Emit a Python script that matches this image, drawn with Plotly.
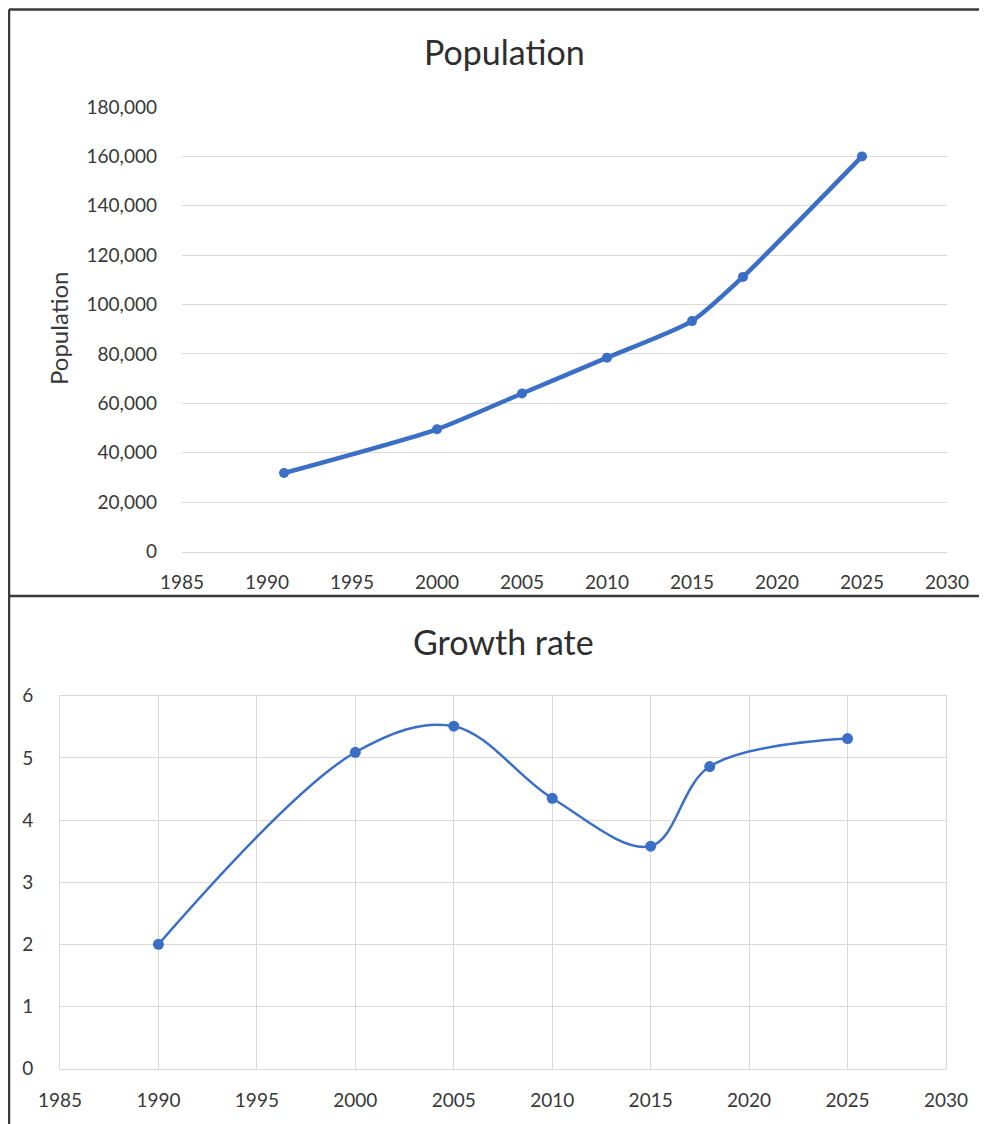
import plotly.graph_objects as go

# ---- data ----
pop_years = [1991, 2000, 2005, 2010, 2015, 2018, 2025]
pop_values = [31800, 49500, 64000, 78500, 93300, 111200, 160000]

gr_years = [1990, 2000, 2005, 2010, 2015, 2018, 2025]
gr_values = [2.0, 5.09, 5.51, 4.35, 3.58, 4.86, 5.31]

x_ticks = [1985, 1990, 1995, 2000, 2005, 2010, 2015, 2020, 2025, 2030]
pop_ticks = [0, 20000, 40000, 60000, 80000, 100000, 120000, 140000, 160000, 180000]
gr_ticks = [0, 1, 2, 3, 4, 5, 6]

W, H = 987, 1124
OFF = 8  # page body margin
BLUE = "#3B6FC6"
GRID = "#D9D9D9"
TXT = "#383838"
FONT = "Lato"


def px_x(p):
    return (p - OFF) / W


def px_y(p):
    return (H - (p - OFF)) / H


fig = go.Figure()

fig.add_trace(go.Scatter(
    x=pop_years, y=pop_values, mode="lines+markers",
    line=dict(color=BLUE, width=4.5, shape="spline", smoothing=0.6),
    marker=dict(color=BLUE, size=10),
    xaxis="x", yaxis="y", showlegend=False,
))

fig.add_trace(go.Scatter(
    x=gr_years, y=gr_values, mode="lines+markers",
    line=dict(color=BLUE, width=2.5, shape="spline", smoothing=1.0),
    marker=dict(color=BLUE, size=11),
    xaxis="x2", yaxis="y2", showlegend=False,
))

tickfont = dict(family=FONT, size=19, color=TXT)

fig.update_layout(
    width=W, height=H,
    margin=dict(l=0, r=0, t=0, b=0, pad=0, autoexpand=False),
    paper_bgcolor="white", plot_bgcolor="white",
    font=dict(family=FONT, color=TXT),
    xaxis=dict(
        domain=[px_x(182), px_x(947)], range=[1985, 2030],
        tickvals=x_ticks, showgrid=False, zeroline=False,
        showline=True, linecolor=GRID, linewidth=1,
        ticks="", tickfont=tickfont, ticklabelstandoff=14,
        anchor="y", automargin=False,
    ),
    yaxis=dict(
        domain=[px_y(551.5), px_y(107)], range=[0, 180000],
        tickvals=pop_ticks, tickformat=",", showgrid=True, gridcolor=GRID,
        zeroline=False, showline=False, ticks="", tickfont=tickfont,
        ticklabelstandoff=24, anchor="x", automargin=False,
    ),
    xaxis2=dict(
        domain=[px_x(60), px_x(946)], range=[1985, 2030],
        tickvals=x_ticks, showgrid=True, gridcolor=GRID, zeroline=False,
        showline=True, mirror=True, linecolor=GRID, linewidth=1,
        ticks="", tickfont=tickfont, ticklabelstandoff=14, anchor="y2",
        automargin=False,
    ),
    yaxis2=dict(
        domain=[px_y(1068.7), px_y(695.7)], range=[0, 6],
        tickvals=gr_ticks, showgrid=True, gridcolor=GRID, zeroline=False,
        showline=True, mirror=True, linecolor=GRID, linewidth=1,
        ticks="", tickfont=tickfont, ticklabelstandoff=22, anchor="x2",
        automargin=False,
    ),
    annotations=[
        dict(text="Population", x=px_x(504), y=px_y(52), xref="paper", yref="paper",
             showarrow=False, xanchor="center", yanchor="middle",
             font=dict(family=FONT, size=34, color="#2e2e2e")),
        dict(text="Growth rate", x=px_x(503), y=px_y(641), xref="paper", yref="paper",
             showarrow=False, xanchor="center", yanchor="middle",
             font=dict(family=FONT, size=34, color="#2e2e2e")),
        dict(text="Population", x=px_x(58), y=px_y(329), xref="paper", yref="paper",
             showarrow=False, xanchor="center", yanchor="middle", textangle=-90,
             font=dict(family=FONT, size=24, color=TXT)),
    ],
    shapes=[
        # frame: top, left, divider
        dict(type="line", xref="paper", yref="paper", x0=px_x(9), x1=1.0,
             y0=px_y(9.5), y1=px_y(9.5), line=dict(color="#3a3a3a", width=2.5)),
        dict(type="line", xref="paper", yref="paper", x0=px_x(9), x1=px_x(9),
             y0=0.0, y1=px_y(9.5), line=dict(color="#3a3a3a", width=2.5)),
        dict(type="line", xref="paper", yref="paper", x0=px_x(9), x1=1.0,
             y0=px_y(596), y1=px_y(596), line=dict(color="#3a3a3a", width=2.5)),
    ],
)

fig.write_html("out.html")
